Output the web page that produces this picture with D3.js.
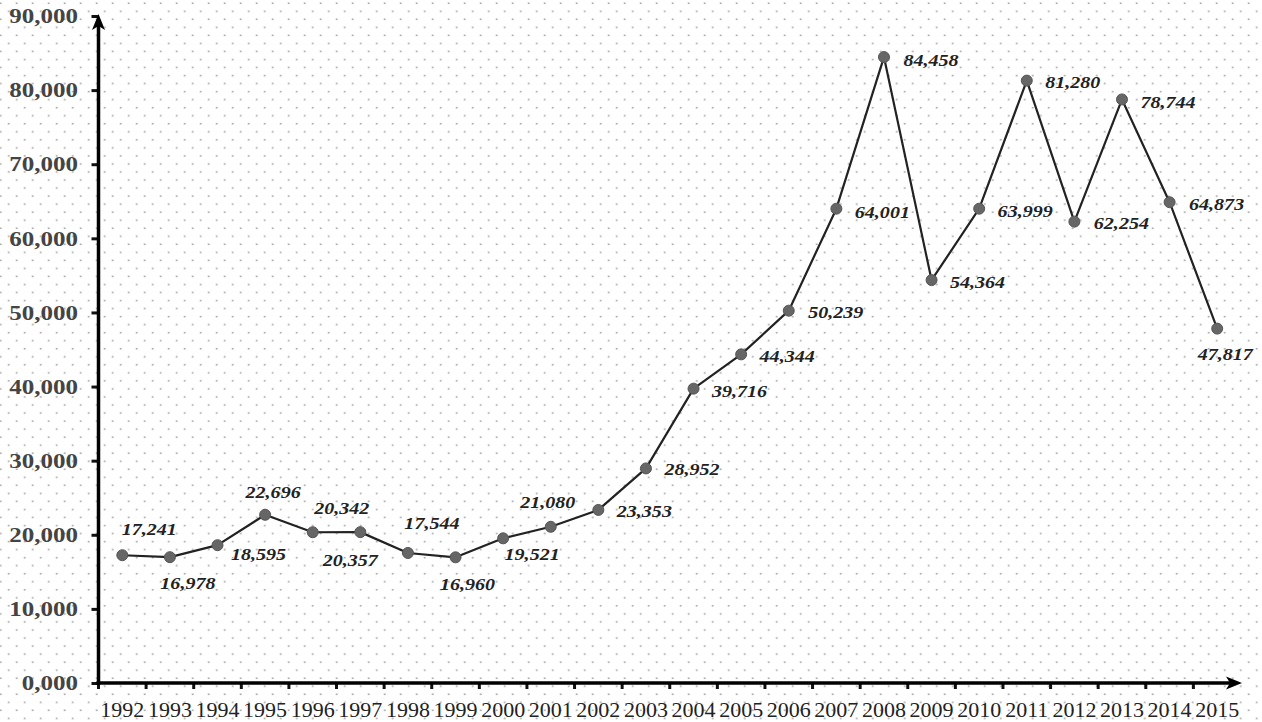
<!DOCTYPE html>
<html lang="en">
<head>
<meta charset="UTF-8">
<title>1992-2015</title>
<script src="https://cdn.jsdelivr.net/npm/d3@7"></script>
<style>
  body { margin: 0; background: #fff; }
  svg { display: block; }
</style>
</head>
<body>
<svg class="root"></svg>
<script>
  const years = ["1992", "1993", "1994", "1995", "1996", "1997", "1998", "1999", "2000", "2001", "2002", "2003",
                 "2004", "2005", "2006", "2007", "2008", "2009", "2010", "2011", "2012", "2013", "2014", "2015"];
  const values = [17241, 16978, 18595, 22696, 20342, 20357, 17544, 16960, 19521, 21080, 23353, 28952,
                  39716, 44344, 50239, 64001, 84458, 54364, 63999, 81280, 62254, 78744, 64873, 47817];
  const yTicks = [0, 10000, 20000, 30000, 40000, 50000, 60000, 70000, 80000, 90000];

  // where each value label sits, relative to its point (label centre)
  const labelOffset = [[27, -26], [18, 26], [41, 9], [8, -23], [29, -24], [-10, 28], [24, -30], [12, 27],
                       [29, 16], [-3, -25], [46, 1], [46, 1], [46, 2], [46, 2], [47, 1], [46, 3],
                       [47, 3], [46, 2], [46, 2], [46, 1], [47, 1], [46, 3], [47, 2], [8, 25]];

  const width = 1262, height = 722;
  const serif = "'Liberation Serif', 'Times New Roman', serif";

  const x = d3.scaleBand().domain(years).range([98.5, 1241]);
  const y = d3.scaleLinear().domain([0, 90000]).range([683, 16]);
  const x0 = x.range()[0], x1 = x.range()[1];
  const yBase = y(0), yTop = y.range()[1];

  const svg = d3.select(".root")
      .attr("width", width)
      .attr("height", height);

  // dotted background
  const pat = svg.append("defs").append("pattern")
      .attr("id", "dots")
      .attr("patternUnits", "userSpaceOnUse")
      .attr("x", -3.3).attr("y", 15.3)
      .attr("width", 16).attr("height", 16.07);
  pat.append("circle").attr("cx", 4).attr("cy", 4).attr("r", 0.95).attr("fill", "#a0a0a0");
  pat.append("circle").attr("cx", 12).attr("cy", 12.03).attr("r", 0.95).attr("fill", "#a0a0a0");

  svg.append("rect")
      .attr("width", width).attr("height", height)
      .attr("fill", "url(#dots)");

  // y axis
  const fmt = d => d === 0 ? "0,000" : d3.format(",")(d);
  const yAxis = svg.append("g")
      .attr("transform", `translate(${x0},0)`)
      .call(d3.axisLeft(y).tickValues(yTicks).tickFormat(fmt).tickSize(7).tickSizeOuter(0));
  yAxis.select(".domain").remove();
  yAxis.selectAll(".tick line").attr("stroke", "#111").attr("stroke-width", 3);
  yAxis.selectAll(".tick text")
      .attr("x", -20.5 / 1.19)
      .attr("transform", "scale(1.19,1)")
      .attr("fill", "#444")
      .style("font", `bold 21px ${serif}`);

  // x axis: labels centred in each band, ticks at band edges
  const xAxis = svg.append("g")
      .attr("transform", `translate(0,${yBase})`)
      .call(d3.axisBottom(x).tickSize(0).tickPadding(18.5));
  xAxis.select(".domain").remove();
  xAxis.selectAll(".tick text")
      .attr("fill", "#222")
      .style("font", `22px ${serif}`);

  svg.append("g").selectAll("line")
    .data(years)
    .join("line")
      .attr("x1", d => x(d)).attr("x2", d => x(d))
      .attr("y1", yBase).attr("y2", yBase + 6)
      .attr("stroke", "#111").attr("stroke-width", 3);

  // axis lines with arrow heads
  svg.append("line")
      .attr("x1", x0).attr("x2", x0)
      .attr("y1", yBase + 2).attr("y2", yTop + 4)
      .attr("stroke", "#000").attr("stroke-width", 3.5);
  svg.append("line")
      .attr("x1", x0 - 2).attr("x2", x1 - 6)
      .attr("y1", yBase).attr("y2", yBase)
      .attr("stroke", "#000").attr("stroke-width", 3.5);

  svg.append("path")
      .attr("d", `M${x0},${yTop - 2} L${x0 + 6.5},${yTop + 14} L${x0},${yTop + 10} L${x0 - 6.5},${yTop + 14} Z`)
      .attr("fill", "#000");
  svg.append("path")
      .attr("d", `M${x1 + 1},${yBase} L${x1 - 15},${yBase - 6.5} L${x1 - 11},${yBase} L${x1 - 15},${yBase + 6.5} Z`)
      .attr("fill", "#000");

  // series
  const cx = d => x(d) + x.bandwidth() / 2;
  const pts = years.map((d, i) => ({ year: d, value: values[i], off: labelOffset[i] }));

  svg.append("path")
      .datum(pts)
      .attr("fill", "none")
      .attr("stroke", "#222")
      .attr("stroke-width", 2.2)
      .attr("stroke-linejoin", "round")
      .attr("d", d3.line().x(d => cx(d.year)).y(d => y(d.value)));

  svg.append("g").selectAll("circle")
    .data(pts)
    .join("circle")
      .attr("cx", d => cx(d.year))
      .attr("cy", d => y(d.value))
      .attr("r", 5.5)
      .attr("fill", "#666")
      .attr("stroke", "#555")
      .attr("stroke-width", 1);

  svg.append("g").selectAll("text")
    .data(pts)
    .join("text")
      .attr("transform", d => `translate(${cx(d.year) + d.off[0]},${y(d.value) + d.off[1] + 6}) scale(1.18,1)`)
      .attr("text-anchor", "middle")
      .attr("fill", "#222")
      .style("font", `italic bold 17px ${serif}`)
      .text(d => d3.format(",")(d.value));
</script>
</body>
</html>
